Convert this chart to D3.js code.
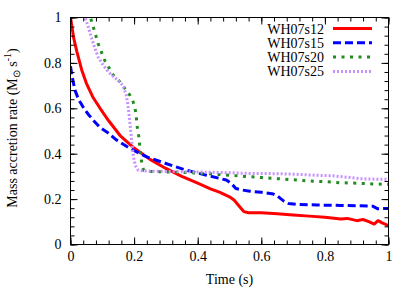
<!DOCTYPE html>
<html>
<head>
<meta charset="utf-8">
<script src="https://cdn.jsdelivr.net/npm/d3@7"></script>
<style>
html,body{margin:0;padding:0;background:#fff;}
svg{display:block;}
svg text{font-family:"Liberation Serif","Times New Roman",Times,serif !important;}
</style>
</head>
<body>
<svg id="chart" width="415" height="291"></svg>
<script>
// ---- data ----
const seriesNames = ["WH07s12", "WH07s15", "WH07s20", "WH07s25"];

const s12Time = [0,0.01,0.02,0.035,0.05,0.07,0.093,0.12,0.156,0.2,0.25,0.3,0.35,0.4,0.44,0.47,0.5,0.515,0.53,0.545,0.56,0.6,0.65,0.7,0.75,0.8,0.85,0.87,0.9,0.92,0.94,0.955,0.967,0.98,1.0];
const s12Rate = [1.0,0.91,0.85,0.77,0.71,0.65,0.60,0.545,0.48,0.425,0.375,0.335,0.30,0.27,0.245,0.23,0.21,0.195,0.17,0.145,0.14,0.14,0.135,0.13,0.125,0.12,0.112,0.115,0.105,0.11,0.1,0.09,0.105,0.095,0.083];

const s15Time = [0,0.005,0.014,0.025,0.04,0.055,0.072,0.093,0.114,0.145,0.187,0.24,0.3,0.365,0.428,0.49,0.505,0.52,0.54,0.564,0.6,0.638,0.65,0.66,0.672,0.685,0.72,0.774,0.85,0.95,0.965,0.975,1.0];
const s15Rate = [0.785,0.74,0.68,0.64,0.605,0.575,0.547,0.515,0.496,0.46,0.423,0.386,0.357,0.327,0.305,0.284,0.27,0.247,0.24,0.235,0.23,0.222,0.215,0.203,0.19,0.181,0.176,0.174,0.172,0.169,0.158,0.158,0.159];

const s20Time = [0.055,0.064,0.072,0.087,0.108,0.135,0.156,0.175,0.187,0.197,0.203,0.207,0.21,0.215,0.218,0.222,0.226,0.23,0.25,0.3,0.35,0.4,0.45,0.5,0.55,0.6,0.65,0.7,0.75,0.8,0.85,0.9,0.95,1.0];
const s20Rate = [1.03,0.994,0.957,0.884,0.81,0.745,0.716,0.68,0.657,0.628,0.6,0.56,0.518,0.474,0.43,0.38,0.345,0.327,0.322,0.32,0.318,0.315,0.31,0.305,0.3,0.295,0.29,0.285,0.28,0.277,0.272,0.27,0.267,0.265];

const s25Time = [0.04,0.046,0.056,0.072,0.087,0.103,0.119,0.135,0.15,0.165,0.175,0.18,0.185,0.19,0.195,0.2,0.205,0.213,0.22,0.25,0.3,0.376,0.45,0.5,0.564,0.65,0.7,0.774,0.82,0.857,0.88,0.91,0.95,1.0];
const s25Rate = [1.03,1.0,0.957,0.884,0.825,0.79,0.76,0.74,0.723,0.7,0.66,0.62,0.56,0.49,0.42,0.37,0.345,0.327,0.325,0.323,0.322,0.32,0.318,0.316,0.313,0.312,0.31,0.305,0.303,0.298,0.295,0.29,0.288,0.287];

const xTickValues = [0, 0.2, 0.4, 0.6, 0.8, 1];
const xTickLabels = ["0", "0.2", "0.4", "0.6", "0.8", "1"];
const yTickValues = [0, 0.2, 0.4, 0.6, 0.8, 1];
const yTickLabels = ["0", "0.2", "0.4", "0.6", "0.8", "1"];

// ---- styles ----
const FONT = "Liberation Serif, Times New Roman, Times, serif";
const styles = [
  {color: "#ff0000", dash: null,    width: 3},
  {color: "#0000ff", dash: "8,4",   width: 3},
  {color: "#228b22", dash: "3,5.5", width: 3},
  {color: "#c792ff", dash: "2,2",   width: 3}
];

const seriesData = [
  s12Time.map((t,i)=>({t, v:s12Rate[i]})),
  s15Time.map((t,i)=>({t, v:s15Rate[i]})),
  s20Time.map((t,i)=>({t, v:s20Rate[i]})),
  s25Time.map((t,i)=>({t, v:s25Rate[i]}))
];

const svg = d3.select("#chart").attr("font-family", FONT);
const L = 70.5, R = 388.5, T = 17.5, B = 244.5;
const x = d3.scaleLinear().domain([0,1]).range([L,R]);
const y = d3.scaleLinear().domain([0,1]).range([B,T]);

svg.append("defs").append("clipPath").attr("id","clip")
  .append("rect").attr("x",L).attr("y",T).attr("width",R-L).attr("height",B-T);

// curves
const line = d3.line().x(d=>x(d.t)).y(d=>y(d.v));
const g = svg.append("g").attr("clip-path","url(#clip)");
seriesData.forEach((d,i)=>{
  g.append("path").datum(d)
    .attr("d", line)
    .attr("fill","none")
    .attr("stroke", styles[i].color)
    .attr("stroke-width", styles[i].width)
    .attr("stroke-dasharray", styles[i].dash)
    .attr("stroke-linejoin","round");
});

// axes
const minorX = d3.range(0, 1.0001, 0.04);
const minorY = d3.range(0, 1.0001, 0.04);
function styleAxis(sel){
  sel.attr("font-family", FONT);
  sel.select(".domain").remove();
  sel.selectAll("line").attr("stroke","#000").attr("stroke-width",1);
  sel.selectAll("text").attr("fill","#000").attr("font-size","14px")
    .attr("font-family", FONT);
}
// bottom
svg.append("g").attr("transform",`translate(0,${B})`)
  .call(d3.axisBottom(x).tickValues(minorX).tickSize(-4).tickFormat("")).call(styleAxis);
svg.append("g").attr("transform",`translate(0,${B})`)
  .call(d3.axisBottom(x).tickValues(xTickValues).tickSize(-7).tickPadding(7)
    .tickFormat((d,i)=>xTickLabels[i])).call(styleAxis);
// top
svg.append("g").attr("transform",`translate(0,${T})`)
  .call(d3.axisTop(x).tickValues(minorX).tickSize(-4).tickFormat("")).call(styleAxis);
svg.append("g").attr("transform",`translate(0,${T})`)
  .call(d3.axisTop(x).tickValues(xTickValues).tickSize(-7).tickFormat("")).call(styleAxis);
// left
svg.append("g").attr("transform",`translate(${L},0)`)
  .call(d3.axisLeft(y).tickValues(minorY).tickSize(-4).tickFormat("")).call(styleAxis);
svg.append("g").attr("transform",`translate(${L},0)`)
  .call(d3.axisLeft(y).tickValues(yTickValues).tickSize(-7).tickPadding(9)
    .tickFormat((d,i)=>yTickLabels[i])).call(styleAxis);
// right
svg.append("g").attr("transform",`translate(${R},0)`)
  .call(d3.axisRight(y).tickValues(minorY).tickSize(-4).tickFormat("")).call(styleAxis);
svg.append("g").attr("transform",`translate(${R},0)`)
  .call(d3.axisRight(y).tickValues(yTickValues).tickSize(-7).tickFormat("")).call(styleAxis);

// frame
svg.append("rect").attr("x",L).attr("y",T).attr("width",R-L).attr("height",B-T)
  .attr("fill","none").attr("stroke","#000").attr("stroke-width",1);

// axis titles
svg.append("text").attr("x",(L+R)/2).attr("y",284).attr("text-anchor","middle")
  .attr("font-family", FONT).attr("font-size","14px").text("Time (s)");

const yt = svg.append("text").attr("transform","translate(17,128) rotate(-90)")
  .attr("text-anchor","middle").attr("font-family", FONT).attr("font-size","14px");
yt.append("tspan").text("Mass accretion rate (M");
yt.append("tspan").attr("font-size","10px").attr("dy","3").text("\u2299");
yt.append("tspan").attr("dy","-3").text(" s");
yt.append("tspan").attr("font-size","10px").attr("dy","-6").text("-1");
yt.append("tspan").attr("dy","6").text(")");

// legend
const legend = svg.append("g");
seriesNames.forEach((name,i)=>{
  const cy = 28.5 + i*14.3;
  legend.append("text").attr("x",324).attr("y",cy+5).attr("text-anchor","end")
    .attr("font-family", FONT).attr("font-size","14px").text(name);
  legend.append("line").attr("x1",333).attr("x2",372).attr("y1",cy).attr("y2",cy)
    .attr("stroke",styles[i].color).attr("stroke-width",styles[i].width)
    .attr("stroke-dasharray",styles[i].dash);
});
</script>
</body>
</html>
